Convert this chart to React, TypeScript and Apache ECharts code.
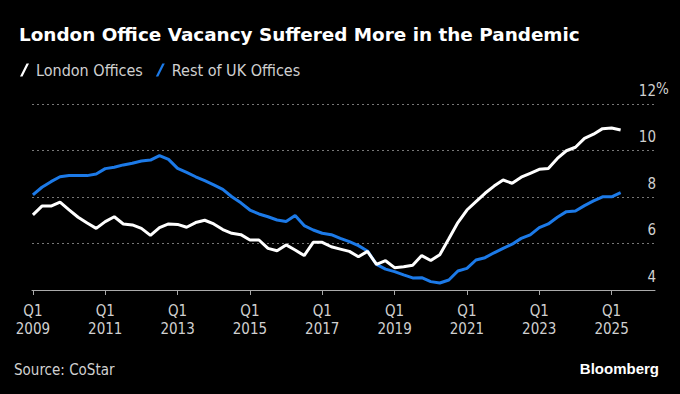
import React, { useEffect, useRef } from "react";
import * as echarts from "echarts";

const title = "London Office Vacancy Suffered More in the Pandemic";
const seriesNames = ["London Offices", "Rest of UK Offices"];
// Quarterly office vacancy (%), Q1 2009 .. Q2 2025
const london = [
  7.23, 7.61, 7.61, 7.78, 7.45, 7.13, 6.88, 6.65, 6.94, 7.15, 6.84, 6.8, 6.65, 6.35, 6.68, 6.84,
  6.82, 6.7, 6.9, 7.0, 6.84, 6.6, 6.44, 6.38, 6.15, 6.15, 5.79, 5.69, 5.94, 5.72, 5.48, 6.05,
  6.05, 5.86, 5.76, 5.66, 5.43, 5.66, 5.1, 5.26, 4.96, 5.0, 5.06, 5.48, 5.27, 5.52, 6.2, 6.9,
  7.44, 7.8, 8.16, 8.47, 8.73, 8.59, 8.85, 9.02, 9.19, 9.23, 9.66, 9.99, 10.14, 10.52, 10.7, 10.94,
  10.97, 10.88,
];
const restOfUK = [
  8.09, 8.42, 8.66, 8.87, 8.92, 8.92, 8.92, 8.99, 9.22, 9.28, 9.38, 9.45, 9.55, 9.59, 9.78, 9.62,
  9.23, 9.06, 8.87, 8.7, 8.52, 8.33, 8.01, 7.75, 7.44, 7.27, 7.15, 7.01, 6.95, 7.2, 6.77, 6.58,
  6.44, 6.38, 6.22, 6.08, 5.91, 5.68, 5.1, 4.9, 4.79, 4.65, 4.52, 4.53, 4.36, 4.3, 4.43, 4.82,
  4.93, 5.29, 5.39, 5.6, 5.79, 5.97, 6.22, 6.37, 6.68, 6.84, 7.13, 7.37, 7.4, 7.63, 7.83, 8.01,
  8.01, 8.19,
];
const xTickPositions = [0, 8, 16, 24, 32, 40, 48, 56, 64];
const xTickLabels = [
  "Q1\n2009", "Q1\n2011", "Q1\n2013", "Q1\n2015", "Q1\n2017",
  "Q1\n2019", "Q1\n2021", "Q1\n2023", "Q1\n2025",
];
const yMin = 4;
const yMax = 12;
const yInterval = 2;
const yUnit = "%";

const FONT = "'DejaVu Sans Condensed', 'DejaVu Sans', sans-serif";
const TITLE_FONT = "'DejaVu Sans', sans-serif";
const BLUE = "#1c7ae8";
const LABEL = "#d0d0d0";

export default function App() {
  const ref = useRef<HTMLDivElement>(null);
  useEffect(() => {
    if (!ref.current) return;
    const chart = echarts.init(ref.current, undefined, { renderer: "svg" });
    const toPairs = (arr: number[]) => arr.map((v, i) => [i, v]);
    chart.setOption({
      animation: false,
      backgroundColor: "#000",
      textStyle: { fontFamily: FONT },
      title: {
        text: title,
        left: 14,
        top: 20,
        textStyle: { color: "#fff", fontSize: 18.4, fontWeight: "bold", fontFamily: TITLE_FONT },
      },
      legend: {
        left: 15,
        top: 57,
        itemWidth: 9,
        itemHeight: 13,
        itemGap: 13,
        icon: "path://M0,13 L6.5,0 L9,0 L2.5,13 Z",
        textStyle: { color: LABEL, fontSize: 16, fontFamily: FONT, padding: [0, 0, 0, 2] },
        data: seriesNames,
      },
      grid: { left: 32, right: 25, top: 104, bottom: 104 },
      xAxis: {
        type: "value",
        min: -0.1,
        max: 68.8,
        axisLine: { show: true, lineStyle: { color: "#aaa", width: 1 } },
        axisTick: {
          show: true,
          length: 5,
          lineStyle: { color: "#aaa" },
          customValues: xTickPositions,
        },
        axisLabel: {
          color: LABEL,
          fontSize: 15,
          lineHeight: 18,
          margin: 12,
          fontFamily: FONT,
          customValues: xTickPositions,
          formatter: (v: number) => {
            const idx = xTickPositions.indexOf(Math.round(v));
            return idx >= 0 ? xTickLabels[idx] : "";
          },
        },
        splitLine: { show: false },
      },
      yAxis: {
        type: "value",
        position: "right",
        min: yMin,
        max: yMax,
        interval: yInterval,
        axisLine: { show: false },
        axisTick: { show: false },
        axisLabel: {
          color: LABEL,
          fontSize: 15,
          fontFamily: FONT,
          align: "right",
          verticalAlign: "bottom",
          margin: 1,
          padding: [0, 0, 6, 0],
          formatter: (v: number) => String(v),
        },
        splitLine: { show: true, lineStyle: { color: "#777", type: [2, 3], width: 1 } },
      },
      series: [
        {
          name: seriesNames[0],
          type: "line",
          data: toPairs(london),
          showSymbol: false,
          color: "#fff",
          lineStyle: { color: "#fff", width: 3 },
          z: 3,
        },
        {
          name: seriesNames[1],
          type: "line",
          data: toPairs(restOfUK),
          showSymbol: false,
          color: BLUE,
          lineStyle: { color: BLUE, width: 3 },
          z: 2,
        },
      ],
      graphic: [
        {
          type: "text",
          left: 656,
          top: 81,
          style: { text: yUnit, fill: LABEL, fontSize: 15, fontFamily: FONT },
        },
        {
          type: "text",
          left: 14,
          top: 362,
          style: { text: "Source: CoStar", fill: LABEL, fontSize: 15, fontFamily: FONT },
        },
        {
          type: "text",
          right: 21,
          top: 361,
          style: { text: "Bloomberg", fill: "#fff", fontSize: 15, fontWeight: "bold", fontFamily: "'Liberation Sans', Arial, sans-serif" },
        },
      ],
    });
    return () => chart.dispose();
  }, []);
  return <div ref={ref} style={{ width: 680, height: 394, position: "absolute", left: 0, top: 0 }} />;
}
